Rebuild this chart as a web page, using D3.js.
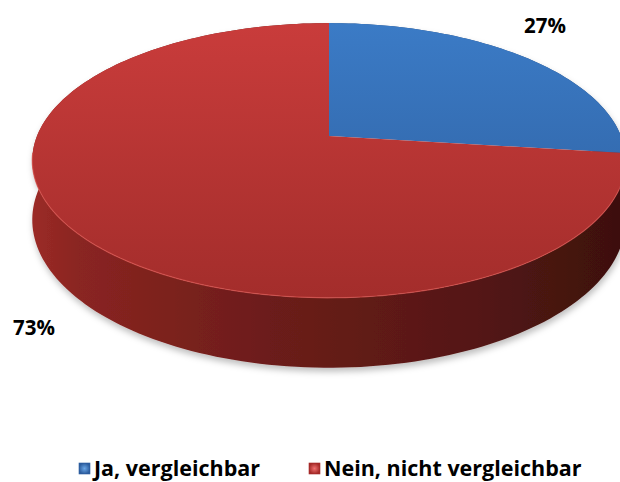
<!DOCTYPE html>
<html>
<head>
<meta charset="utf-8">
<script src="https://cdn.jsdelivr.net/npm/d3@7"></script>
<style>
  body { margin: 0; background: #fff; }
  svg { display: block; }
</style>
</head>
<body>
<div id="chart"></div>
<script>
var categories = ["Ja, vergleichbar", "Nein, nicht vergleichbar"];
var values = [27, 73];
var labels = ["27%", "73%"];
var topColors = [["#3b7bc6", "#2d5d9c"], ["#c93c3b", "#a32d2b"]];

var width = 620,
  height = 482;

// 3d pie geometry (perspective)
var cx = 329,
  cy = 136,
  rx = 292,
  ry = 133,
  g = -0.178,
  depth = 57.5;

var svg = d3
  .select("#chart")
  .append("svg")
  .attr("width", width)
  .attr("height", height);

var defs = svg.append("defs");

function proj(a, drop) {
  var u = Math.sin(a),
    v = -Math.cos(a),
    w = 1 + g * v;
  return [cx + (rx * u) / w, cy + (ry * v) / w + (drop || 0) / w];
}

var pie = d3.pie().sort(null).value(function (d) {
  return d;
});
var arcs = pie(values);

// gradients
topColors.forEach(function (c, i) {
  var lg = defs
    .append("linearGradient")
    .attr("id", "top" + i)
    .attr("gradientUnits", "userSpaceOnUse")
    .attr("x1", 0).attr("y1", 23)
    .attr("x2", 0).attr("y2", 300);
  lg.append("stop").attr("offset", 0).attr("stop-color", c[0]);
  lg.append("stop").attr("offset", 1).attr("stop-color", c[1]);
});

var sideStops = [
  [0, "#9c2b27"],
  [0.08, "#8a2521"],
  [0.4, "#6c1d1a"],
  [0.75, "#541714"],
  [1, "#3c100e"],
];
var sg = defs
  .append("linearGradient")
  .attr("id", "side")
  .attr("gradientUnits", "userSpaceOnUse")
  .attr("x1", 30).attr("y1", 0)
  .attr("x2", 626).attr("y2", 0);
sideStops.forEach(function (s) {
  sg.append("stop").attr("offset", s[0]).attr("stop-color", s[1]);
});

var shadow = defs
  .append("filter")
  .attr("id", "shadow")
  .attr("x", "-10%").attr("y", "-10%")
  .attr("width", "120%").attr("height", "130%");
shadow
  .append("feDropShadow")
  .attr("dx", 1).attr("dy", 4)
  .attr("stdDeviation", 3)
  .attr("flood-color", "#000")
  .attr("flood-opacity", 0.25);

function arcPoints(a0, a1, drop) {
  var n = Math.max(2, Math.ceil(((a1 - a0) / (2 * Math.PI)) * 240));
  return d3.range(n + 1).map(function (k) {
    return proj(a0 + ((a1 - a0) * k) / n, drop);
  });
}

var line = d3.line();

// outer walls
var sides = svg.append("g").attr("filter", "url(#shadow)");
arcs.forEach(function (d, i) {
  var topPts = arcPoints(d.startAngle, d.endAngle, 0);
  var botPts = arcPoints(d.startAngle, d.endAngle, depth).reverse();
  sides
    .append("path")
    .attr("d", line(topPts.concat(botPts)) + "Z")
    .attr("fill", i == 0 ? "#2a4f80" : "url(#side)");
});

// top faces
var tops = svg.append("g");
arcs.forEach(function (d, i) {
  var pts = [[cx, cy]].concat(arcPoints(d.startAngle, d.endAngle, 0));
  tops
    .append("path")
    .attr("d", line(pts) + "Z")
    .attr("fill", "url(#top" + i + ")");
});

// light rim where the top meets the side
tops
  .append("path")
  .attr("d", line(arcPoints(Math.PI * 0.56, Math.PI * 1.46, 0)))
  .attr("fill", "none")
  .attr("stroke", "#d8514d")
  .attr("stroke-opacity", 0.7)
  .attr("stroke-width", 1.2);

// data labels
var labelPos = [
  [545, 33],
  [34, 335],
];
svg
  .append("g")
  .selectAll("text")
  .data(labels)
  .enter()
  .append("text")
  .attr("x", function (d, i) { return labelPos[i][0]; })
  .attr("y", function (d, i) { return labelPos[i][1]; })
  .attr("text-anchor", "middle")
  .attr("font-family", "'Open Sans', sans-serif")
  .attr("font-weight", "bold")
  .attr("font-size", 20.5)
  .attr("fill", "#000")
  .text(function (d) { return d; });

// legend
var legendX = [79, 309];
var markerCols = [["#6aa6e6", "#2c5d9e"], ["#f07070", "#a52a28"]];
markerCols.forEach(function (c, i) {
  var rg = defs
    .append("radialGradient")
    .attr("id", "mk" + i);
  rg.append("stop").attr("offset", 0).attr("stop-color", c[0]);
  rg.append("stop").attr("offset", 1).attr("stop-color", c[1]);
});
var legend = svg
  .append("g")
  .selectAll("g")
  .data(categories)
  .enter()
  .append("g")
  .attr("transform", function (d, i) {
    return "translate(" + legendX[i] + ",463)";
  });
legend
  .append("rect")
  .attr("width", 11)
  .attr("height", 11)
  .attr("fill", function (d, i) { return "url(#mk" + i + ")"; })
  .attr("stroke", function (d, i) { return i == 0 ? "#2c5d9e" : "#a52a28"; })
  .attr("stroke-width", 0.6);
legend
  .append("text")
  .attr("x", 15)
  .attr("y", 13)
  .attr("font-family", "'Open Sans', sans-serif")
  .attr("font-weight", "bold")
  .attr("font-size", 21.5)
  .attr("fill", "#000")
  .text(function (d) { return d; });
</script>
</body>
</html>
